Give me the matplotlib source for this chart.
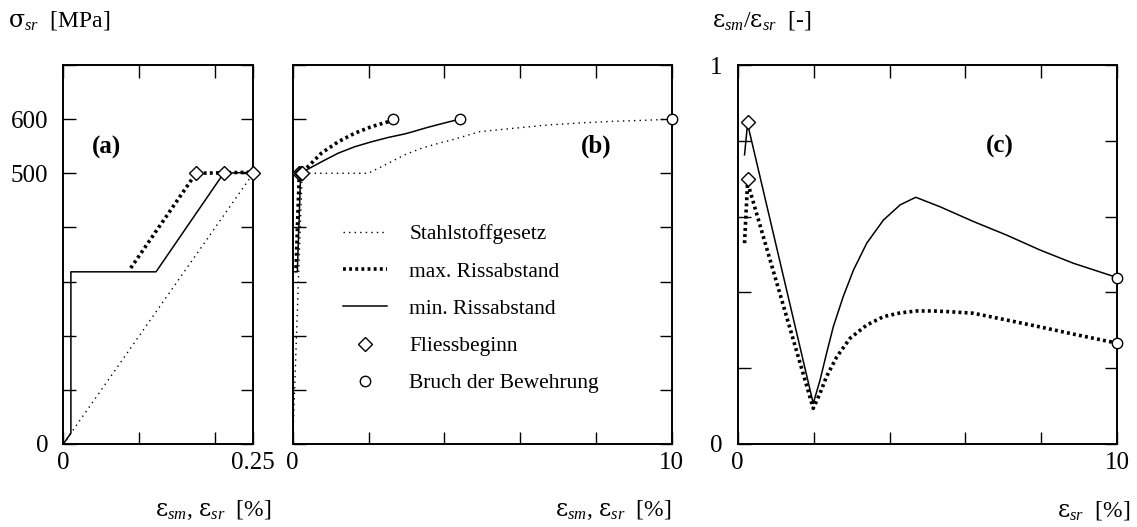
import matplotlib
matplotlib.use("Agg")
import matplotlib.pyplot as plt
from matplotlib.lines import Line2D

plt.rcParams['font.family'] = ['Liberation Serif', 'DejaVu Serif']
plt.rcParams['mathtext.fontset'] = 'custom'
plt.rcParams['mathtext.rm'] = 'Liberation Serif'
plt.rcParams['mathtext.it'] = 'Liberation Serif:italic'
plt.rcParams['mathtext.bf'] = 'Liberation Serif:bold'
plt.rcParams['mathtext.sf'] = 'DejaVu Serif'

# ---------------- data ----------------
# steel law (Stahlstoffgesetz): strain [%], stress [MPa]
eps_steel = [0, 0.25, 1.99, 2.34, 2.95, 3.39, 3.83, 4.27, 4.94, 5.82, 6.70, 7.58, 8.46, 9.34, 10]
sig_steel = [0, 500, 500, 512, 534, 546, 555, 563, 577, 583, 589, 593, 596, 598, 600]

# max. crack spacing (mean strain)
eps_max = [0.0887, 0.1746, 0.25, 0.40, 0.755, 1.195, 1.636, 2.074, 2.51, 2.65]
sig_max = [325, 500, 502, 512, 537, 558, 574, 586, 595, 600]

# min. crack spacing (mean strain)
eps_min = [0, 0.01, 0.01, 0.122, 0.211, 0.25, 0.755, 1.195, 1.636, 2.07, 2.51, 2.95, 3.13, 3.57, 4.01, 4.41]
sig_min = [0, 20, 318, 318, 500, 502, 521, 537, 549, 558, 566, 572.6, 576, 585, 593, 600]

# markers
yield_eps = [0.1746, 0.211, 0.25]
yield_sig = [500, 500, 500]
break_eps = [2.65, 4.41, 10]
break_sig = [600, 600, 600]

# panel (c): eps_sm / eps_sr vs eps_sr
c_eps_min = [0.18, 0.26, 1.99, 2.17, 2.34, 2.52, 2.78, 3.05, 3.40, 3.84, 4.28, 4.69,
             5.33, 6.21, 7.09, 7.96, 8.84, 10]
c_rat_min = [0.763, 0.845, 0.107, 0.169, 0.239, 0.310, 0.389, 0.459, 0.530, 0.591, 0.631, 0.651,
             0.626, 0.587, 0.551, 0.512, 0.477, 0.439]
c_eps_max = [0.18, 0.26, 1.99, 2.17, 2.34, 2.61, 2.96, 3.40, 3.84, 4.28, 4.72, 5.15, 5.59,
             6.21, 7.09, 7.96, 8.84, 10]
c_rat_max = [0.530, 0.690, 0.094, 0.134, 0.178, 0.230, 0.279, 0.314, 0.336, 0.346, 0.351, 0.351, 0.349,
             0.345, 0.327, 0.309, 0.290, 0.266]
c_yield_eps = [0.26, 0.26]
c_yield_rat = [0.85, 0.699]
c_break_eps = [10, 10]
c_break_rat = [0.439, 0.266]

# ---------------- styles ----------------
thin_dot = dict(color='black', lw=1.0, ls=(0, (1, 3)))
thick_dot = dict(color='black', lw=2.6, ls=(0, (0.8, 0.9)))
solid = dict(color='black', lw=1.1, ls='-')
diam = dict(ls='none', marker='D', ms=7, mfc='white', mec='black', mew=1.0, zorder=5, clip_on=False)
circ = dict(ls='none', marker='o', ms=7.5, mfc='white', mec='black', mew=1.0, zorder=5, clip_on=False)

fig = plt.figure(figsize=(11.37, 5.27), dpi=100)
H = 527.0
W = 1137.0
bot = (H - 444) / H
hgt = 379 / H
ax_a = fig.add_axes([63.3 / W, bot, 190 / W, hgt])
ax_b = fig.add_axes([292.7 / W, bot, 379 / W, hgt])
ax_c = fig.add_axes([737.7 / W, bot, 379.6 / W, hgt])

FS_TICK = 18
FS_LAB = 17

def style(ax):
    for s in ax.spines.values():
        s.set_linewidth(1.4)
    ax.tick_params(direction='in', top=True, right=True, length=9, width=1.0,
                   labelsize=FS_TICK)
    ax.tick_params(axis='x', pad=6)
    ax.tick_params(axis='y', pad=11)

# panels a and b
for ax, xmax in ((ax_a, 0.25), (ax_b, 10)):
    ax.plot(eps_steel, sig_steel, **thin_dot)
    ax.plot(eps_max, sig_max, **thick_dot)
    ax.plot(eps_min, sig_min, **solid)
    ax.plot(yield_eps, yield_sig, **diam)
    ax.set_ylim(0, 700)
    ax.set_xlim(0, xmax)
    ax.set_yticks([0, 100, 200, 300, 400, 500, 600, 700])
    style(ax)
ax_b.plot(break_eps, break_sig, **circ)

ax_a.set_xticks([0, 0.1, 0.2, 0.25])
ax_a.set_xticklabels(['0', '', '', '0.25'])
ax_a.set_yticklabels(['0', '', '', '', '', '500', '600', ''])
ax_b.set_xticks([0, 2, 4, 6, 8, 10])
ax_b.set_xticklabels(['0', '', '', '', '', '10'])
ax_b.set_yticklabels([])

ax_a.text(0.057, 547, '(a)', fontsize=18, fontweight='bold', ha='center', va='center')
ax_b.text(8.0, 549, '(b)', fontsize=18, fontweight='bold', ha='center', va='center')

handles = [Line2D([], [], **thin_dot), Line2D([], [], **thick_dot), Line2D([], [], **solid),
           Line2D([], [], **{k: v for k, v in diam.items() if k not in ('zorder', 'clip_on')}),
           Line2D([], [], **{k: v for k, v in circ.items() if k not in ('zorder', 'clip_on')})]
labels = ['Stahlstoffgesetz', 'max. Rissabstand', 'min. Rissabstand', 'Fliessbeginn',
          'Bruch der Bewehrung']
ax_b.legend(handles, labels, loc='upper left', bbox_to_anchor=(0.133, 0.58),
            frameon=False, fontsize=15.5, handlelength=2.03, handletextpad=1.05,
            labelspacing=0.8, borderpad=0, borderaxespad=0)

# panel c
ax_c.plot(c_eps_max, c_rat_max, **thick_dot)
ax_c.plot(c_eps_min, c_rat_min, **solid)
ax_c.plot(c_yield_eps, c_yield_rat, **diam)
ax_c.plot(c_break_eps, c_break_rat, **circ)
ax_c.set_xlim(0, 10)
ax_c.set_ylim(0, 1)
ax_c.set_xticks([0, 2, 4, 6, 8, 10])
ax_c.set_xticklabels(['0', '', '', '', '', '10'])
ax_c.set_yticks([0, 0.2, 0.4, 0.6, 0.8, 1.0])
ax_c.set_yticklabels(['0', '', '', '', '', '1'])
style(ax_c)
ax_c.text(6.9, 0.785, '(c)', fontsize=18, fontweight='bold', ha='center', va='center')

# axis titles
fig.text(8 / W, 1 - 20 / H, r'$\mathsf{σ}_{sr}$  [MPa]', fontsize=FS_LAB, ha='left', va='center')
fig.text(712 / W, 1 - 20 / H, r'$\mathsf{ε}_{sm}$/$\mathsf{ε}_{sr}$  [-]', fontsize=FS_LAB,
         ha='left', va='center')
fig.text(272 / W, 1 - 510 / H, r'$\mathsf{ε}_{sm}$, $\mathsf{ε}_{sr}$  [%]', fontsize=FS_LAB,
         ha='right', va='center')
fig.text(672 / W, 1 - 510 / H, r'$\mathsf{ε}_{sm}$, $\mathsf{ε}_{sr}$  [%]', fontsize=FS_LAB,
         ha='right', va='center')
fig.text(1130 / W, 1 - 510 / H, r'$\mathsf{ε}_{sr}$  [%]', fontsize=FS_LAB, ha='right', va='center')

fig.savefig('out.png', dpi=100)
